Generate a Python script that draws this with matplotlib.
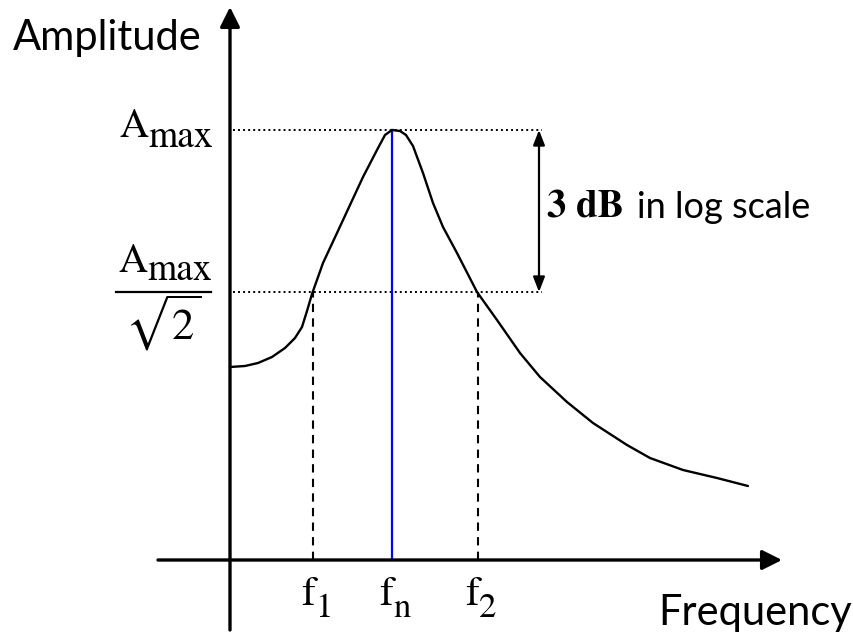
import numpy as np
import matplotlib
matplotlib.use('Agg')
import matplotlib.pyplot as plt

# frequency response (axis origin at 0, 0)
freq = [0.00, 0.15, 0.28, 0.42, 0.55, 0.65, 0.72, 0.77, 0.82, 0.93, 1.07, 1.20, 1.33,
        1.47, 1.55, 1.62, 1.70, 1.76, 1.83, 1.93, 2.03, 2.13, 2.27, 2.47, 2.67, 2.90,
        3.10, 3.37, 3.63, 3.97, 4.20, 4.53, 4.87, 5.18]
amp = [1.93, 1.94, 1.97, 2.03, 2.12, 2.22, 2.33, 2.49, 2.66, 2.97, 3.27, 3.55, 3.83,
       4.10, 4.25, 4.30, 4.29, 4.25, 4.14, 3.87, 3.57, 3.33, 3.07, 2.68, 2.40, 2.07,
       1.83, 1.58, 1.37, 1.15, 1.02, 0.90, 0.82, 0.74]

a_max = 4.30
a_half = 2.68
f1, fn, f2 = 0.83, 1.62, 2.48
span_x = 3.09          # x of the 3 dB double arrow
ref_end = 3.12         # end of the dotted reference lines

sans = ['Lato', 'DejaVu Sans']
serif = ['STIXGeneral', 'DejaVu Serif']

fig = plt.figure(figsize=(8.54, 6.39), dpi=100)
ax = fig.add_axes([0, 0, 1, 1])
ax.set_xlim(-2.30, 6.24)
ax.set_ylim(-0.79, 5.60)
ax.axis('off')

# axes with arrow heads
ax.annotate('', xy=(0, 5.53), xytext=(0, -0.70),
            arrowprops=dict(arrowstyle='-|>,head_length=1.2,head_width=0.6', color='black', lw=2.4,
                            shrinkA=0, shrinkB=0))
ax.annotate('', xy=(5.52, 0), xytext=(-0.72, 0),
            arrowprops=dict(arrowstyle='-|>,head_length=1.2,head_width=0.6', color='black', lw=2.4,
                            shrinkA=0, shrinkB=0))

# reference lines
ax.plot([0.03, ref_end], [a_max, a_max], color='black', lw=1.4, ls=(0, (1, 1.6)))
ax.plot([0.03, ref_end], [a_half, a_half], color='black', lw=1.4, ls=(0, (1, 1.6)))
ax.plot([f1, f1], [0, a_half], color='black', lw=1.5, ls=(0, (4, 3)))
ax.plot([f2, f2], [0, a_half], color='black', lw=1.5, ls=(0, (4, 3)))
ax.plot([fn, fn], [0, a_max], color='#0000ff', lw=1.6)

# response curve
ax.plot(freq, amp, color='black', lw=1.7, solid_capstyle='round', solid_joinstyle='round')

# 3 dB span
ax.annotate('', xy=(span_x, a_max), xytext=(span_x, a_half),
            arrowprops=dict(arrowstyle='<|-|>,head_length=0.9,head_width=0.35', color='black', lw=1.6,
                            shrinkA=0, shrinkB=0))
ax.text(3.17, 3.42, '3 dB', family=serif, weight='bold', fontsize=28, va='baseline')
ax.text(4.07, 3.42, 'in log scale', family=sans, fontsize=26, va='baseline')

# axis titles
ax.text(-2.17, 5.10, 'Amplitude', family=sans, fontsize=30, va='baseline')
ax.text(4.28, -0.65, 'Frequency', family=sans, fontsize=30, va='baseline')


def sub_label(x, y, main, sub, size, subsize, drop):
    # main letter ends at x, subscript starts at x
    ax.text(x, y, main, family=serif, fontsize=size, va='baseline', ha='right')
    ax.text(x, y - drop, sub, family=serif, fontsize=subsize, va='baseline', ha='left')


# y labels
sub_label(-0.82, 4.23, 'A', 'max', 29, 27, 0.10)
sub_label(-0.83, 2.88, 'A', 'max', 29, 27, 0.08)
ax.plot([-1.14, -0.19], [2.68, 2.68], color='black', lw=1.6)
ax.text(-0.67, 2.20, r'$\sqrt{2}$', fontsize=32, ha='center', va='baseline',
        math_fontfamily='stix')

# x labels
sub_label(f1 + 0.02, -0.45, 'f', '1', 30, 25, 0.12)
sub_label(fn + 0.01, -0.45, 'f', 'n', 30, 25, 0.12)
sub_label(f2 + 0.01, -0.45, 'f', '2', 30, 25, 0.12)

fig.savefig('out.png', dpi=100)
